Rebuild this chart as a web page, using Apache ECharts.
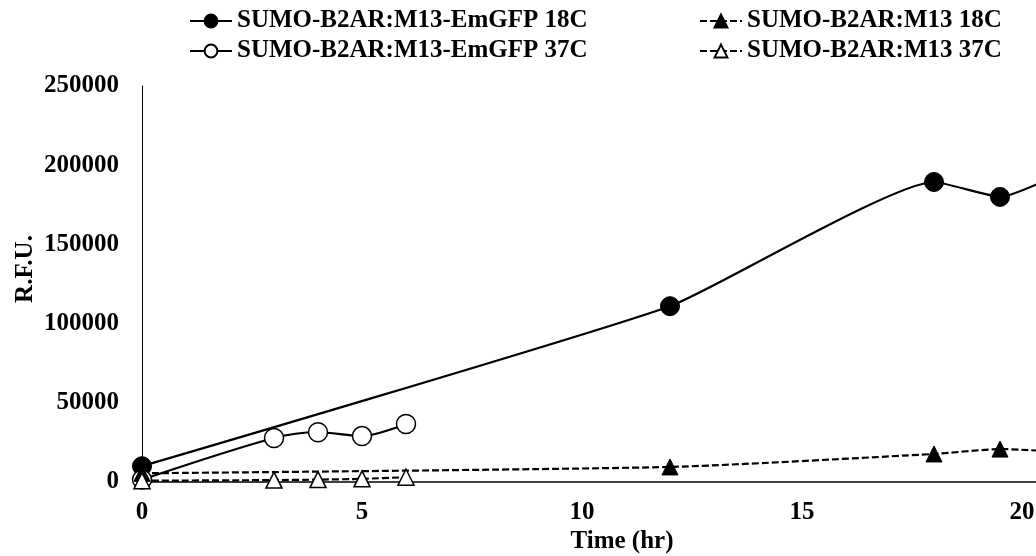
<!DOCTYPE html>
<html>
<head>
<meta charset="utf-8">
<script src="https://cdn.jsdelivr.net/npm/echarts@6/dist/echarts.min.js"></script>
<style>
html,body{margin:0;padding:0;background:#fff;}
#chart{width:1036px;height:556px;}
</style>
</head>
<body>
<div id="chart"></div>
<script>
// Data
var seriesNames = [
  'SUMO-B2AR:M13-EmGFP 18C',
  'SUMO-B2AR:M13-EmGFP 37C',
  'SUMO-B2AR:M13 18C',
  'SUMO-B2AR:M13 37C'
];
var emgfp18 = [[0, 10000], [12, 111000], [18, 189400], [19.5, 180000], [22, 210000]];
var emgfp37 = [[0, 1500], [3, 27800], [4, 31400], [5, 29000], [6, 36600]];
var m13_18  = [[0, 5500], [12, 9500], [18, 17700], [19.5, 20800], [22, 17000]];
var m13_37  = [[0, 800], [3, 1200], [4, 1500], [5, 2000], [6, 3000]];
var yTicks = [0, 50000, 100000, 150000, 200000, 250000];
var xTicks = [0, 5, 10, 15, 20, 25];

var FONT = '"Liberation Serif", "Times New Roman", serif';

var chart = echarts.init(document.getElementById('chart'), null, {renderer: 'canvas'});

function lineSeries(name, data, symbol, filled, dashed, size, smooth) {
  return {
    name: name,
    type: 'line',
    data: data,
    smooth: smooth,
    symbol: symbol,
    symbolSize: size,
    showAllSymbol: true,
    lineStyle: {color: '#000', width: 2.2, type: dashed ? [7, 3] : 'solid'},
    itemStyle: filled ? {color: '#000', borderColor: '#000', borderWidth: 1}
                      : {color: '#fff', borderColor: '#000', borderWidth: 1.5},
    emphasis: {disabled: true},
    animation: false
  };
}

var legendCommon = {
  orient: 'vertical',
  top: 2,
  itemWidth: 42,
  itemHeight: 16,
  itemGap: 2,
  textStyle: {fontFamily: FONT, fontWeight: 'bold', fontSize: 25, color: '#000', lineHeight: 28},
  selectedMode: false
};

chart.setOption({
  backgroundColor: '#fff',
  animation: false,
  legend: [
    Object.assign({}, legendCommon, {left: 184, data: [seriesNames[0], seriesNames[1]]}),
    Object.assign({}, legendCommon, {left: 694, data: [seriesNames[2], seriesNames[3]]})
  ],
  grid: {left: 142, top: 86, width: 1100, height: 396, containLabel: false, outerBoundsMode: 'none'},
  xAxis: {
    type: 'value',
    min: xTicks[0],
    max: xTicks[xTicks.length - 1],
    interval: 5,
    name: 'Time (hr)',
    nameLocation: 'middle',
    nameGap: 47,
    nameMoveOverlap: false,
    nameTextStyle: {fontFamily: FONT, fontWeight: 'bold', fontSize: 25, color: '#000', padding: [0, 140, 0, 0]},
    axisLine: {show: true, onZero: false, lineStyle: {color: '#404040', width: 2}},
    axisTick: {show: false},
    splitLine: {show: false},
    axisLabel: {fontFamily: FONT, fontWeight: 'bold', fontSize: 25, color: '#000', margin: 18,
      formatter: function (v) { return xTicks.indexOf(v) >= 0 ? String(v) : ''; }}
  },
  yAxis: {
    type: 'value',
    min: yTicks[0],
    max: yTicks[yTicks.length - 1],
    interval: 50000,
    name: 'R.F.U.',
    nameLocation: 'middle',
    nameGap: 104,
    nameMoveOverlap: false,
    nameTextStyle: {fontFamily: FONT, fontWeight: 'bold', fontSize: 25, color: '#000', padding: [0, 0, 0, 30]},
    axisLine: {show: true, lineStyle: {color: '#000', width: 1}},
    axisTick: {show: false},
    splitLine: {show: false},
    axisLabel: {fontFamily: FONT, fontWeight: 'bold', fontSize: 25, color: '#000', margin: 23,
      formatter: function (v) { return String(v); }}
  },
  series: [
    lineSeries(seriesNames[0], emgfp18, 'circle', true, false, 19, 0.15),
    lineSeries(seriesNames[1], emgfp37, 'circle', false, false, 19, 0.3),
    lineSeries(seriesNames[2], m13_18, 'triangle', true, true, 16, 0.2),
    lineSeries(seriesNames[3], m13_37, 'triangle', false, true, 16, 0.2)
  ]
});
</script>
</body>
</html>
